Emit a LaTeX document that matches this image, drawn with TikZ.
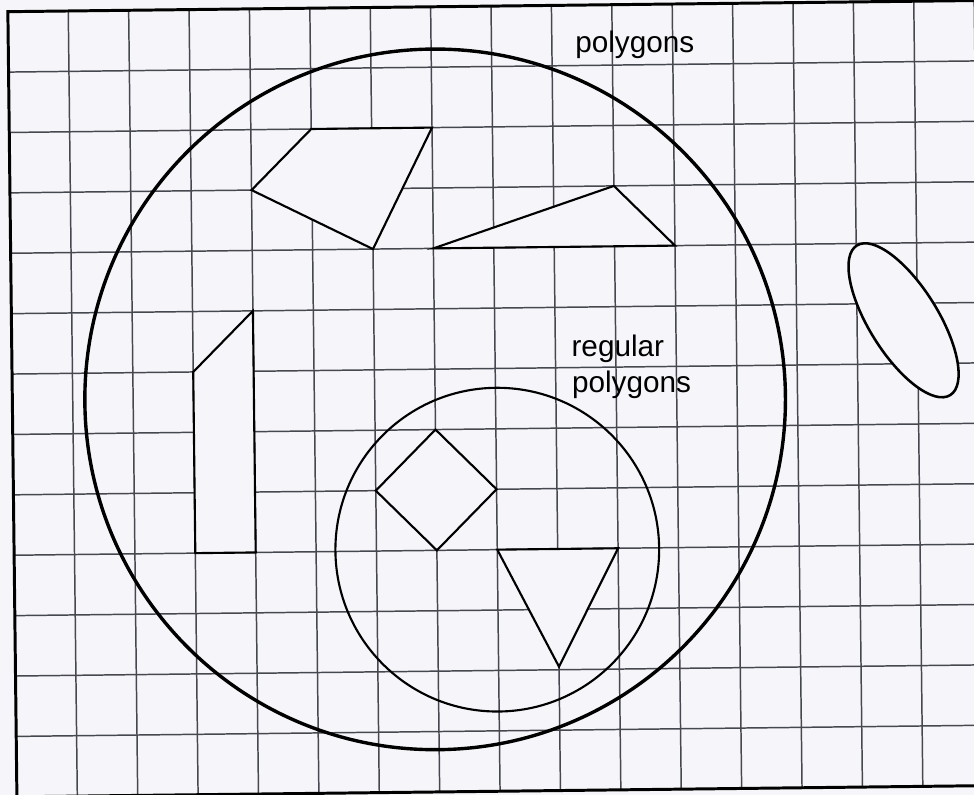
\documentclass[tikz,border=0pt]{standalone}
\usepackage{fontspec}
\setmainfont{Liberation Sans}

\definecolor{paper}{RGB}{246,245,249}
\definecolor{ruling}{RGB}{70,72,80}

\tikzset{
  grid line/.style={ruling, line width=0.7pt},
  frame line/.style={black, line width=1.4pt},
  set line/.style={black, line width=1.6pt},
  shape line/.style={black, line width=1pt, fill=paper, line join=miter},
  label text/.style={font=\fontsize{14}{17}\selectfont, anchor=base west, inner sep=0pt},
}

\begin{document}
\begin{tikzpicture}
\useasboundingbox (0,0) rectangle (16.126,13.162);
\fill[paper] (0,0) rectangle (16.126,13.162);
\clip (0,0) rectangle (16.126,13.162);

\begin{scope}[shift={(0.28,-0.03)}, rotate=0.66]
% ruitjes
\foreach \c in {1,...,16}
    \draw[grid line] (\c,0) -- (\c,13);
\foreach \r in {1,...,12}
    \draw[grid line] (0,\r) -- (16.6,\r);
\draw[frame line] (16.6,0) -- (0,0) -- (0,13) -- (16.6,13);

% verzamelingen
\draw[set line] (7,6.5) circle[radius=5.8];
\draw[black, line width=1pt] (8,4) circle[radius=2.68];

% veelhoeken
\draw[shape line] (4,10) -- (5,11) -- (7,11) -- (6,9) -- cycle;
\draw[shape line] (7,9) -- (10,10) -- (11,9) -- cycle;
\draw[shape line] (3,4) -- (3,7) -- (4,8) -- (4,4) -- cycle;

% regelmatige veelhoeken
\draw[shape line] (7,6) -- (6,5) -- (7,4) -- (8,5) -- cycle;
\draw[shape line] (8,4) -- (10,4) -- (9,2.05) -- cycle;

% ellips buiten de cirkel
\draw[shape line, line width=1.2pt] (14.77,7.72)
    circle[x radius=1.46, y radius=0.57, rotate=-58.7];

% labels
\node[label text] (polygons) at (9.38,12.21) {polygons};
\node[label text] (regular) at (9.26,7.18) {regular};
\node[label text] (regpolygons) at (9.26,6.58) {polygons};
\end{scope}
\end{tikzpicture}
\end{document}
